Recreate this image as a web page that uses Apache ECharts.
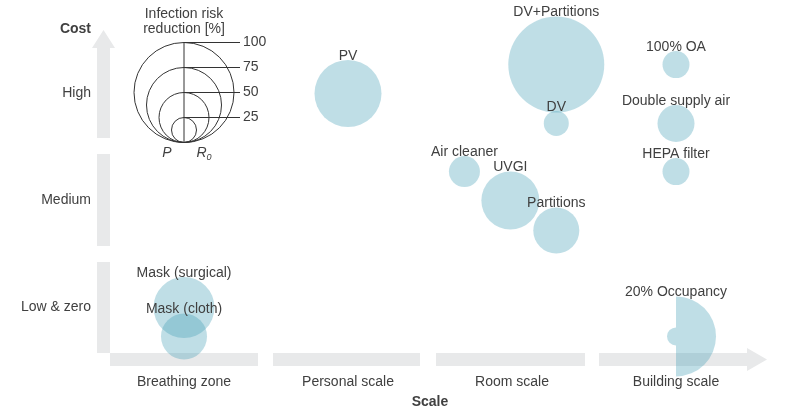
<!DOCTYPE html>
<html>
<head>
<meta charset="utf-8">
<script src="https://cdn.jsdelivr.net/npm/echarts@6/dist/echarts.min.js"></script>
<style>
  html, body { margin: 0; padding: 0; background: #fff; }
  #chart { width: 788px; height: 410px; }
</style>
</head>
<body>
<div id="chart"></div>
<script>
// data
var scaleNames = ['Breathing zone', 'Personal scale', 'Room scale', 'Building scale'];
var costNames = ['Low & zero', 'Medium', 'High'];
var measures = ['Mask (surgical)', 'Mask (cloth)', 'PV', 'Air cleaner', 'UVGI', 'DV+Partitions',
                'DV', 'Partitions', '100% OA', 'Double supply air', 'HEPA filter', '20% Occupancy'];
var scalePos = [0.5, 0.5, 1.5, 2.21, 2.49, 2.77, 2.77, 2.77, 3.5, 3.5, 3.5, 3.5];
var costPos = [0.5, 0.23, 2.5, 1.77, 1.5, 2.77, 2.22, 1.22, 2.77, 2.22, 1.77, 0.23];
var reductionP = [61, 46, 67, 31, 58, 96, 25, 46, 27, 37, 27, 18];
var reductionR0 = [61, 46, 67, 31, 58, 96, 25, 46, 27, 37, 27, 80];
var legendTicks = [25, 50, 75, 100];

var PX = 1; // px diameter per % risk reduction
var textColor = '#404040';
var bubbleColor = 'rgba(60,155,178,0.33)';
var barColor = '#e8e9ea';
var font = 'Liberation Sans, Arial, sans-serif';

var seriesData = measures.map(function (m, i) {
    return { name: m, value: [scalePos[i], costPos[i], reductionP[i], reductionR0[i]] };
});

function renderBubble(params, api) {
    var c = api.coord([api.value(0), api.value(1)]);
    var rp = api.value(2) * PX / 2;
    var rr = api.value(3) * PX / 2;
    var children = [];
    if (rp === rr) {
        children.push({ type: 'circle', shape: { cx: c[0], cy: c[1], r: rp }, style: { fill: bubbleColor } });
    } else {
        // left half = P, right half = R0
        children.push({ type: 'sector', shape: { cx: c[0], cy: c[1], r0: 0, r: rp, startAngle: Math.PI / 2, endAngle: Math.PI * 1.5 }, style: { fill: bubbleColor } });
        children.push({ type: 'sector', shape: { cx: c[0], cy: c[1], r0: 0, r: rr, startAngle: -Math.PI / 2, endAngle: Math.PI / 2 }, style: { fill: bubbleColor } });
    }
    children.push({
        type: 'text', x: c[0], y: c[1] - Math.max(rp, rr) + 3, z2: 10,
        style: { text: measures[params.dataIndex], align: 'center', verticalAlign: 'bottom', fill: textColor, fontSize: 14, fontFamily: font }
    });
    return { type: 'group', children: children };
}

// gray axis arrows (decoration)
var arrows = [
    { type: 'polygon', shape: { points: [[97, 138], [97, 48], [92, 48], [103.5, 30], [115, 48], [110, 48], [110, 138]] } },
    { type: 'rect', shape: { x: 97, y: 154, width: 13, height: 92 } },
    { type: 'rect', shape: { x: 97, y: 262, width: 13, height: 91 } },
    { type: 'rect', shape: { x: 110, y: 353, width: 148, height: 13 } },
    { type: 'rect', shape: { x: 273, y: 353, width: 147, height: 13 } },
    { type: 'rect', shape: { x: 436, y: 353, width: 149, height: 13 } },
    { type: 'polygon', shape: { points: [[599, 353], [747, 353], [747, 348], [767, 359.5], [747, 371], [747, 366], [599, 366]] } }
].map(function (e) { e.style = { fill: barColor }; e.z = 0; return e; });

// size legend
var lgX = 184, lgBottom = 142.5;
var legend = [];
legendTicks.forEach(function (v) {
    var r = v * PX / 2;
    legend.push({ type: 'circle', shape: { cx: lgX, cy: lgBottom - r, r: r }, style: { fill: null, stroke: '#333', lineWidth: 1 } });
    legend.push({ type: 'line', shape: { x1: lgX, y1: lgBottom - v * PX, x2: 240, y2: lgBottom - v * PX }, style: { stroke: '#333', lineWidth: 1 } });
    legend.push({ type: 'text', x: 243, y: lgBottom - v * PX, style: { text: String(v), verticalAlign: 'middle', fill: textColor, fontSize: 14, fontFamily: font } });
});
legend.push({ type: 'line', shape: { x1: lgX, y1: lgBottom - 100 * PX, x2: lgX, y2: lgBottom }, style: { stroke: '#333', lineWidth: 1 } });
legend.push({ type: 'text', x: lgX, y: 14, style: { text: 'Infection risk', align: 'center', verticalAlign: 'middle', fill: textColor, fontSize: 14, fontFamily: font } });
legend.push({ type: 'text', x: lgX, y: 29, style: { text: 'reduction [%]', align: 'center', verticalAlign: 'middle', fill: textColor, fontSize: 14, fontFamily: font } });
legend.push({ type: 'text', x: 167, y: 153, style: { text: 'P', align: 'center', verticalAlign: 'middle', fill: textColor, fontSize: 14, fontStyle: 'italic', fontFamily: font } });
legend.push({ type: 'text', x: 204, y: 153, style: {
    text: '{r|R}{s|0}', align: 'center', verticalAlign: 'middle', fill: textColor, fontFamily: font,
    rich: { r: { fontSize: 14, fontStyle: 'italic', fill: textColor, fontFamily: font },
            s: { fontSize: 9, fontStyle: 'italic', fill: textColor, fontFamily: font, padding: [8, 0, 0, 0] } }
} });
legend.forEach(function (e) { e.z = 1; });

var myChart = echarts.init(document.getElementById('chart'));
var option = {
    animation: false,
    grid: { left: 102, right: 30, top: 40, bottom: 49, outerBoundsMode: 'none', containLabel: false },
    xAxis: [
        { type: 'value', min: 0, max: 4, show: false, position: 'top' },
        {
            type: 'category', data: scaleNames, position: 'bottom', boundaryGap: true,
            axisLine: { show: false }, axisTick: { show: false }, splitLine: { show: false },
            axisLabel: { margin: 14, color: textColor, fontSize: 14, fontFamily: font },
            name: 'Scale', nameLocation: 'middle', nameGap: 34,
            nameTextStyle: { color: textColor, fontSize: 14, fontWeight: 'bold', fontFamily: font }
        }
    ],
    yAxis: [
        { type: 'value', min: 0, max: 3, show: false, position: 'right' },
        {
            type: 'category', data: costNames, position: 'left', boundaryGap: true,
            axisLine: { show: false }, axisTick: { show: false }, splitLine: { show: false },
            axisLabel: { margin: 11, color: textColor, fontSize: 14, fontFamily: font },
            name: 'Cost', nameLocation: 'end', nameGap: 4,
            nameTextStyle: { color: textColor, fontSize: 14, fontWeight: 'bold', fontFamily: font, align: 'right', padding: [0, 11, 0, 0] }
        }
    ],
    graphic: arrows.concat(legend),
    series: [{
        type: 'custom',
        xAxisIndex: 0,
        yAxisIndex: 0,
        renderItem: renderBubble,
        data: seriesData,
        z: 2
    }]
};
myChart.setOption(option);
window.addEventListener('resize', function () { myChart.resize(); });
</script>
</body>
</html>
